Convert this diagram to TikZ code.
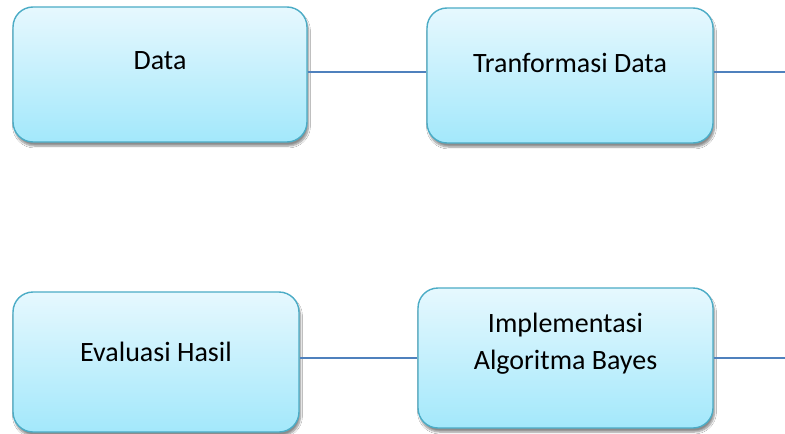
\documentclass[tikz,border=0pt]{standalone}
\usepackage{fontspec}
\setmainfont{Carlito}
\usetikzlibrary{shadows.blur}
\definecolor{boxedge}{HTML}{4BACC6}
\definecolor{boxtop}{HTML}{E6F8FE}
\definecolor{boxbot}{HTML}{A3E8FB}
\definecolor{linkblue}{HTML}{4F81BD}
\tikzset{
  procbox/.style={draw=boxedge, line width=1.4pt, rounded corners=20pt,
    top color=boxtop, bottom color=boxbot,
    blur shadow={shadow blur steps=6, shadow blur extra rounding=2pt,
      shadow xshift=1.5pt, shadow yshift=-4pt, shadow opacity=45},
    inner sep=0pt},
  boxtext/.style={font=\fontsize{28}{37}\selectfont, align=center, inner sep=0pt},
  link/.style={draw=linkblue, line width=1.2pt}
}
\begin{document}
\begin{tikzpicture}[x=1pt,y=-1pt]
\useasboundingbox (0,0) rectangle (785,434);
\fill[white] (0,0) rectangle (785,434);
% boxes
\node[procbox, minimum width=294pt, minimum height=135pt] (data) at (160,74.5) {};
\node[procbox, minimum width=286pt, minimum height=135pt] (trans) at (570,75.5) {};
\node[procbox, minimum width=286pt, minimum height=140pt] (eval) at (156,362) {};
\node[procbox, minimum width=295pt, minimum height=140pt] (impl) at (565.5,358) {};
% texts
\node[boxtext] (tdata) at (160,61) {Data};
\node[boxtext] (ttrans) at (570,63) {Tranformasi Data};
\node[boxtext] (teval) at (156,352) {Evaluasi Hasil};
\node[boxtext] (timpl) at (565.5,344) {Implementasi\\Algoritma Bayes};
% connectors
\coordinate (endtop) at (785,72);
\coordinate (endbot) at (785,358);
\draw[link] (data.east |- endtop) -- (trans.west |- endtop);
\draw[link] (trans.east |- endtop) -- (endtop);
\draw[link] (eval.east |- endbot) -- (impl.west |- endbot);
\draw[link] (impl.east |- endbot) -- (endbot);
\end{tikzpicture}
\end{document}
